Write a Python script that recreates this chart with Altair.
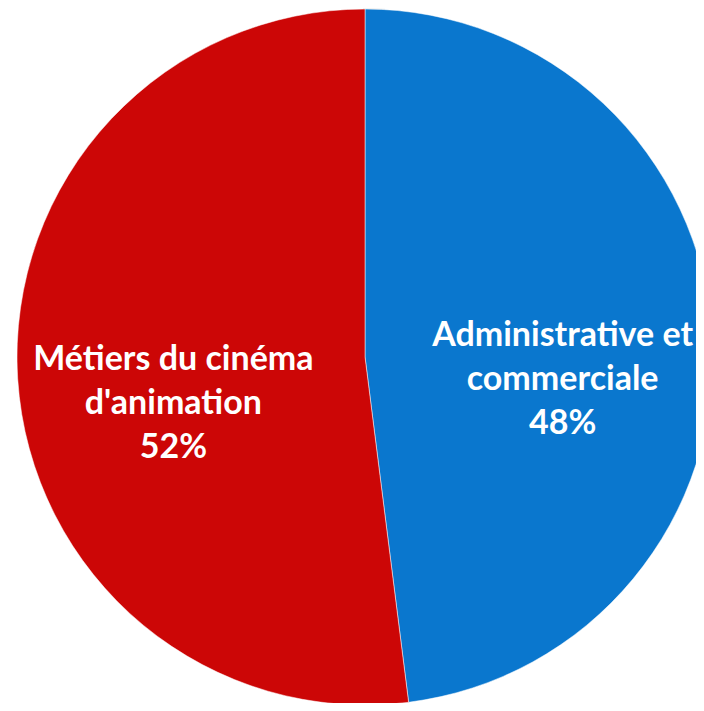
import altair as alt
import pandas as pd

categories = ["Administrative et commerciale", "Métiers du cinéma d'animation"]
values = [48, 52]
labels = [["Administrative et", "commerciale", "48%"], ["Métiers du cinéma", "d'animation", "52%"]]
colors = ["#0A77CE", "#CC0606"]
order = [1, 2]

df = pd.DataFrame({"cat": categories, "value": values, "label": labels, "order": order})

CX, CY, R = 357, 349, 348

base = alt.Chart(df).encode(
    theta=alt.Theta("value:Q", stack=True),
    order=alt.Order("order:Q"),
)

shadow = alt.Chart(pd.DataFrame({"v": [1]})).mark_arc(
    radius=R + 4, color="#000000", opacity=0.08
).encode(theta=alt.Theta("v:Q"), x=alt.value(CX - 2), y=alt.value(CY + 3))

pie = base.mark_arc(radius=R, stroke="#ffffff", strokeWidth=0.5).encode(
    color=alt.Color("cat:N", scale=alt.Scale(domain=categories, range=colors), legend=None),
    x=alt.value(CX),
    y=alt.value(CY),
)

text = base.mark_text(
    radius=195,
    dx=3,
    dy=-9,
    font="Lato",
    fontWeight="bold",
    fontSize=34,
    color="white",
    lineHeight=44,
    align="center",
    baseline="middle",
).encode(text="label", x=alt.value(CX), y=alt.value(CY))

chart = alt.layer(shadow, pie, text).properties(
    width=688, height=695, padding=0, autosize=alt.AutoSizeParams(type="none")
).configure_view(stroke=None)

chart.save("out.html", embed_options={"renderer": "svg", "actions": False})
